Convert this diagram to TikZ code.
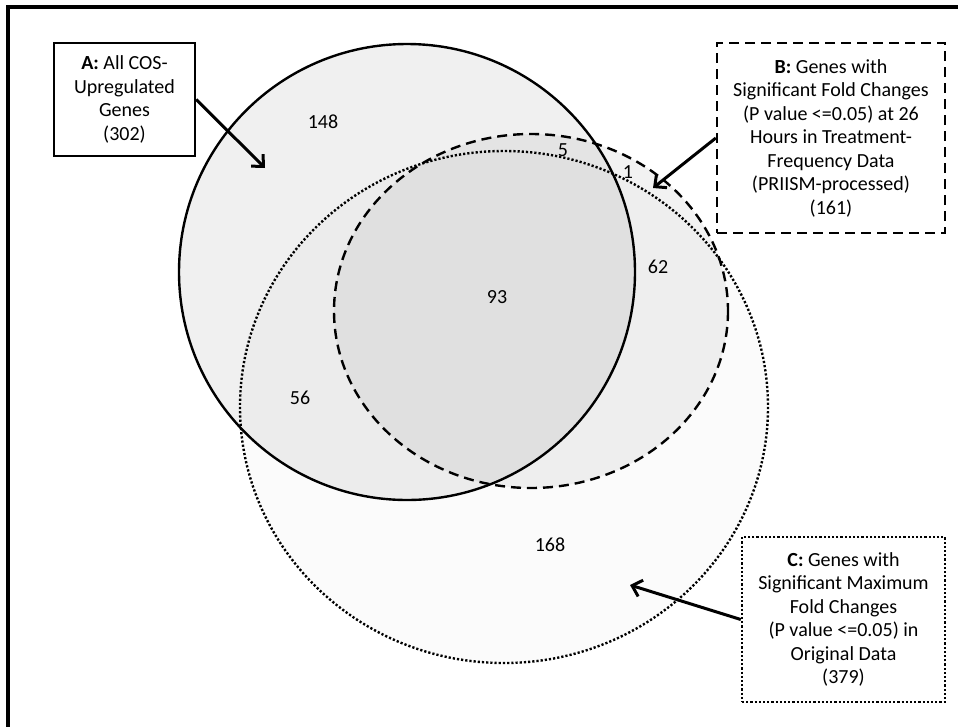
\documentclass[tikz,border=0pt]{standalone}
\usepackage{fontspec}
\setmainfont{Carlito}
\usetikzlibrary{arrows.meta}

\begin{document}
\begin{tikzpicture}[x=1pt, y=-1pt,
  every node/.style={font=\fontsize{20}{23.5}\selectfont},
  setbox/.style={draw, line width=2.4pt, align=center, inner sep=0pt},
  count/.style={inner sep=1pt},
  pointer/.style={-{Straight Barb[length=9pt, width=17pt]}, line width=3pt}]
  \useasboundingbox (0,0) rectangle (958,726);
  \draw[line width=3.2pt] (8,740) -- (8,7) -- (970,7);

  \coordinate (cA) at (407,272);
  \coordinate (cB) at (531,311);
  \coordinate (cC) at (504,407);

  \fill[black, fill opacity=0.015] (cC) ellipse [x radius=264, y radius=256];
  \fill[black, fill opacity=0.05] (cB) ellipse [x radius=197, y radius=177];
  \fill[black, fill opacity=0.06] (cA) circle [radius=228];
  \draw[line width=2.4pt] (cA) circle [radius=228];
  \draw[line width=2.4pt, dash pattern=on 10pt off 6pt] (cB) ellipse [x radius=197, y radius=177];
  \draw[line width=2.4pt, dash pattern=on 2.2pt off 2pt] (cC) ellipse [x radius=264, y radius=256];

  \node[count] (n148) at (323,122) {148};
  \node[count] (n5) at (563,150) {5};
  \node[count] (n1) at (628,172) {1};
  \node[count] (n62) at (658,267) {62};
  \node[count] (n93) at (497,297) {93};
  \node[count] (n56) at (300,398) {56};
  \node[count] (n168) at (550,545) {168};

  \node[setbox, minimum width=141, minimum height=113] (setA) at (124.5,99.5)
    {\textbf{A:} All COS-\\Upregulated\\Genes\\(302)};
  \node[setbox, dash pattern=on 10pt off 6pt, minimum width=228, minimum height=190] (setB) at (831,138)
    {\textbf{B:} Genes with\\Significant Fold Changes\\(P value <=0.05) at 26\\Hours in Treatment-\\Frequency Data\\(PRIISM-processed)\\(161)};
  \node[setbox, dash pattern=on 2.2pt off 2pt, minimum width=203, minimum height=165] (setC) at (843.5,619.5)
    {\textbf{C:} Genes with\\Significant Maximum\\Fold Changes\\(P value <=0.05) in\\Original Data\\(379)};

  \coordinate (tipA) at (265,168);
  \coordinate (tipB) at (653,188);
  \coordinate (tipC) at (630,585);
  \draw[pointer] (setA.east) -- (tipA);
  \draw[pointer] (setB.west) -- (tipB);
  \draw[pointer] (setC.west) -- (tipC);
\end{tikzpicture}
\end{document}
